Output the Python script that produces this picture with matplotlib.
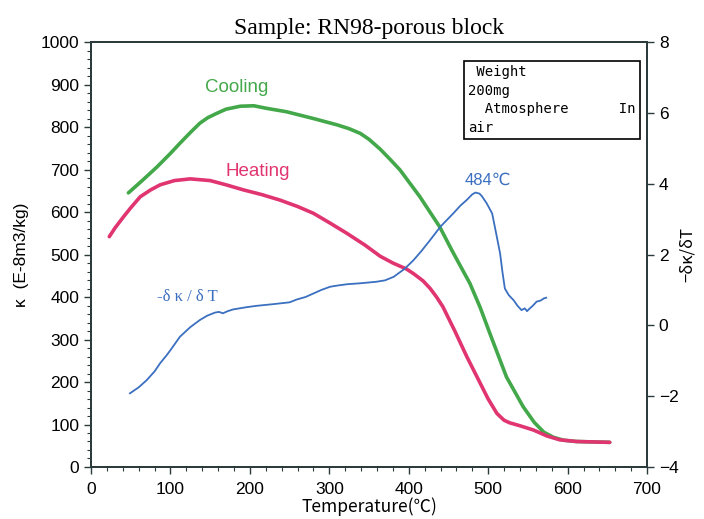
import matplotlib
matplotlib.use("Agg")
import matplotlib.pyplot as plt
from matplotlib.ticker import MultipleLocator
from matplotlib import font_manager

# Heating curve (kappa, E-8 m3/kg)
heat_T = [23, 30, 41, 50, 62, 75, 87, 105, 125, 150, 170, 192, 215, 238, 260, 280, 300, 322, 345, 364, 380, 397, 406, 418, 427, 435, 443, 458, 473, 490, 500, 511, 520, 527, 540, 557, 574, 590, 611, 653]
heat_k = [542, 562, 589, 610, 636, 652, 664, 674, 678, 674, 664, 652, 641, 628, 613, 597, 575, 550, 522, 496, 480, 466, 455, 438, 420, 400, 377, 320, 260, 197, 160, 126, 110, 104, 97, 87, 73, 64, 60, 58]

# Cooling curve
cool_T = [47, 65, 83, 100, 112, 125, 137, 147, 158, 170, 188, 205, 221, 246, 280, 310, 325, 339, 350, 364, 376, 389, 414, 439, 454, 465, 477, 490, 502, 523, 544, 558, 570, 582, 595, 611, 653]
cool_k = [645, 675, 706, 738, 762, 787, 809, 822, 832, 842, 849, 850, 844, 836, 820, 805, 796, 785, 771, 748, 725, 699, 636, 565, 511, 473, 432, 375, 315, 212, 142, 105, 82, 70, 63, 60, 58]

# Derivative curve -dk/dT (right axis)
der_T = [49, 60, 70, 80, 87, 95, 100, 112, 125, 137, 146, 156, 161, 166, 172, 179, 195, 208, 230, 250, 259, 270, 280, 290, 301, 312, 322, 340, 359, 370, 381, 395, 406, 416, 427, 440, 456, 465, 473, 480, 484, 489, 492, 498, 505, 510, 515, 518, 521, 526, 532, 537, 542, 546, 549, 551, 556, 561, 566, 570, 573]
der_v = [-1.92, -1.75, -1.55, -1.30, -1.07, -0.85, -0.70, -0.32, -0.05, 0.15, 0.27, 0.36, 0.38, 0.34, 0.40, 0.45, 0.51, 0.55, 0.60, 0.65, 0.73, 0.80, 0.90, 1.00, 1.09, 1.13, 1.16, 1.19, 1.23, 1.27, 1.37, 1.60, 1.84, 2.10, 2.41, 2.79, 3.16, 3.38, 3.54, 3.70, 3.75, 3.72, 3.65, 3.45, 3.16, 2.60, 2.03, 1.50, 1.04, 0.85, 0.71, 0.55, 0.43, 0.48, 0.40, 0.45, 0.55, 0.67, 0.70, 0.76, 0.78]

title = "Sample: RN98-porous block"
info_text = " Weight\n200mg\n  Atmosphere      In\nair"

names = {f.name for f in font_manager.fontManager.ttflist}
narrow = "Liberation Sans Narrow" if "Liberation Sans Narrow" in names else (
    "DejaVu Sans Condensed" if "DejaVu Sans Condensed" in names else "Liberation Sans")
tickfont = [narrow, "DejaVu Sans"]

fig = plt.figure(figsize=(7.04, 5.19), dpi=100)
ax = fig.add_axes([0.1293, 0.1002, 0.7898, 0.8188])
ax2 = ax.twinx()

green = "#43a84a"
pink = "#e03570"
blue = "#3b6fc0"

ax.plot(cool_T, cool_k, color=green, lw=2.6, solid_capstyle="round", solid_joinstyle="round", zorder=3)
ax.plot(heat_T, heat_k, color=pink, lw=2.6, solid_capstyle="round", solid_joinstyle="round", zorder=3)
ax2.plot(der_T, der_v, color=blue, lw=1.3, zorder=2)

ax.set_xlim(0, 700)
ax.set_ylim(0, 1000)
ax2.set_ylim(-4, 8)

ax.xaxis.set_major_locator(MultipleLocator(100))
ax.xaxis.set_minor_locator(MultipleLocator(20))
ax.yaxis.set_major_locator(MultipleLocator(100))
ax.yaxis.set_minor_locator(MultipleLocator(20))
ax2.yaxis.set_major_locator(MultipleLocator(2))

for a in (ax, ax2):
    for lab in a.get_xticklabels() + a.get_yticklabels():
        lab.set_family(tickfont)
        lab.set_fontsize(12.5)
    for sp in a.spines.values():
        sp.set_linewidth(1.3)
        sp.set_color("#2b3a3a")
ax.tick_params(which="major", direction="out", length=5, width=1, colors="#2b3a3a", labelcolor="black")
ax.tick_params(which="minor", direction="out", length=3, width=0.8, colors="#2b3a3a")
ax2.tick_params(which="major", direction="out", length=5, width=1, colors="#2b3a3a", labelcolor="black")
ax.tick_params(axis="x", pad=6)

ax.set_title(title, family=["Liberation Serif"], fontsize=17, pad=6)
ax.set_xlabel("Temperature(℃)", family=["Noto Sans CJK JP", "DejaVu Sans"], fontsize=12.5, labelpad=0)
ax.set_ylabel("κ  (E-8m3/kg)", family=tickfont, fontsize=12.5, labelpad=8)
ax2.set_ylabel("−δκ/δT", family=["Noto Sans CJK JP", "DejaVu Sans"], fontsize=12, rotation=90)
ax2.yaxis.set_label_coords(1.058, 0.5)

ax.text(184, 892, "Cooling", color=green, fontsize=13.5, ha="center", va="center", family=["Liberation Sans"])
ax.text(210, 696, "Heating", color=pink, fontsize=13.5, ha="center", va="center", family=["Liberation Sans"])
ax2.text(121, 0.8, "-δ κ / δ T", color=blue, fontsize=12, ha="center", va="center", family=["Liberation Serif"])
ax2.text(500, 4.1, "484℃", color=blue, fontsize=12, ha="center", va="center", family=[narrow, "DejaVu Sans"])

ax.text(0.678, 0.945, info_text, transform=ax.transAxes, ha="left", va="top",
        family=["DejaVu Sans Mono"], fontsize=10, linespacing=1.4,
        bbox=dict(boxstyle="square,pad=0.3", fc="white", ec="black", lw=1.2), zorder=5)

fig.savefig("out.png", dpi=100)
